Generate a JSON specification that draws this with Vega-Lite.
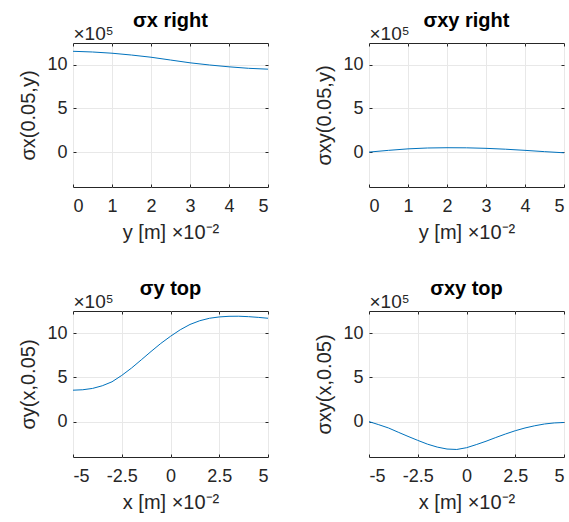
{
  "$schema": "https://vega.github.io/schema/vega-lite/v6.json",
  "padding": {"left": 18, "top": 10, "right": 2, "bottom": 2},
  "background": "white",
  "config": {
    "font": "Liberation Sans",
    "view": {"stroke": "#262626", "strokeWidth": 1},
    "axis": {
      "labelFont": "Liberation Sans", "labelFontSize": 18, "labelColor": "#262626",
      "titleFont": "Liberation Sans", "titleFontSize": 20, "titleColor": "#262626", "titleFontWeight": "normal",
      "gridColor": "#e8e8e8", "gridWidth": 1, "domain": false,
      "ticks": true, "tickSize": -3, "tickColor": "#262626", "tickWidth": 1
    },
    "axisX": {"labelPadding": 13, "titlePadding": 7},
    "axisY": {"labelPadding": 9, "titlePadding": 8},
    "title": {"font": "Liberation Sans", "fontSize": 20, "fontWeight": "bold", "color": "#000000", "anchor": "middle"}
  },
  "datasets": {
    "p1": [
      {"t": 0, "v": 11.55}, {"t": 0.5, "v": 11.47}, {"t": 1, "v": 11.33}, {"t": 1.5, "v": 11.12},
      {"t": 2, "v": 10.87}, {"t": 2.5, "v": 10.55}, {"t": 3, "v": 10.23}, {"t": 3.5, "v": 9.98},
      {"t": 4, "v": 9.77}, {"t": 4.5, "v": 9.6}, {"t": 5, "v": 9.5}
    ],
    "p2": [
      {"t": 0, "v": 0}, {"t": 0.5, "v": 0.2}, {"t": 1, "v": 0.37}, {"t": 1.5, "v": 0.47},
      {"t": 2, "v": 0.5}, {"t": 2.5, "v": 0.49}, {"t": 3, "v": 0.43}, {"t": 3.5, "v": 0.33},
      {"t": 4, "v": 0.2}, {"t": 4.5, "v": 0.05}, {"t": 5, "v": -0.08}
    ],
    "p3": [
      {"t": -5, "v": 3.55}, {"t": -4.5, "v": 3.6}, {"t": -4, "v": 3.75}, {"t": -3.5, "v": 4.05},
      {"t": -3, "v": 4.5}, {"t": -2.5, "v": 5.22}, {"t": -2, "v": 6.05}, {"t": -1.5, "v": 6.98},
      {"t": -1, "v": 7.92}, {"t": -0.5, "v": 8.83}, {"t": 0, "v": 9.64}, {"t": 0.5, "v": 10.38},
      {"t": 1, "v": 10.98}, {"t": 1.5, "v": 11.4}, {"t": 2, "v": 11.68}, {"t": 2.5, "v": 11.83},
      {"t": 3, "v": 11.9}, {"t": 3.5, "v": 11.91}, {"t": 4, "v": 11.86}, {"t": 4.5, "v": 11.78},
      {"t": 5, "v": 11.68}
    ],
    "p4": [
      {"t": -5, "v": 0}, {"t": -4.5, "v": -0.35}, {"t": -4, "v": -0.72}, {"t": -3.5, "v": -1.2},
      {"t": -3, "v": -1.67}, {"t": -2.5, "v": -2.12}, {"t": -2, "v": -2.55}, {"t": -1.5, "v": -2.88},
      {"t": -1, "v": -3.1}, {"t": -0.5, "v": -3.15}, {"t": 0, "v": -2.95}, {"t": 0.5, "v": -2.6},
      {"t": 1, "v": -2.22}, {"t": 1.5, "v": -1.8}, {"t": 2, "v": -1.4}, {"t": 2.5, "v": -1.03},
      {"t": 3, "v": -0.72}, {"t": 3.5, "v": -0.47}, {"t": 4, "v": -0.27}, {"t": 4.5, "v": -0.15},
      {"t": 5, "v": -0.1}
    ]
  },
  "columns": 2,
  "spacing": {"row": 35, "column": 45},
  "concat": [
    {
      "width": 195, "height": 144,
      "title": {"text": "σx right", "offset": -6},
      "data": {"name": "p1"},
      "layer": [
        {
          "mark": {"type": "line", "color": "#0072BD", "strokeWidth": 1, "clip": true},
          "encoding": {
            "x": {"field": "t", "type": "quantitative", "scale": {"domain": [0, 5], "nice": false},
                  "axis": {"values": [0, 1, 2, 3, 4, 5], "labelExpr": "'' + datum.value", "title": "y [m] ×10⁻²"}},
            "y": {"field": "v", "type": "quantitative", "scale": {"domain": [-4, 12.5], "nice": false, "zero": false},
                  "axis": {"values": [0, 5, 10], "title": "σx(0.05,y)"}}
          }
        },
        {
          "mark": {"type": "line", "opacity": 0},
          "encoding": {
            "x": {"field": "t", "type": "quantitative",
                  "axis": {"orient": "top", "values": [0, 1, 2, 3, 4, 5], "labels": false, "grid": false, "title": "×10⁵", "titleAnchor": "start", "titleFontSize": 19, "titlePadding": -1}},
            "y": {"field": "v", "type": "quantitative",
                  "axis": {"orient": "right", "values": [0, 5, 10], "labels": false, "grid": false, "title": null}}
          }
        }
      ],
      "resolve": {"axis": {"x": "independent", "y": "independent"}}
    },
    {
      "width": 195, "height": 144,
      "title": {"text": "σxy right", "offset": -6},
      "data": {"name": "p2"},
      "layer": [
        {
          "mark": {"type": "line", "color": "#0072BD", "strokeWidth": 1, "clip": true},
          "encoding": {
            "x": {"field": "t", "type": "quantitative", "scale": {"domain": [0, 5], "nice": false},
                  "axis": {"values": [0, 1, 2, 3, 4, 5], "labelExpr": "'' + datum.value", "title": "y [m] ×10⁻²"}},
            "y": {"field": "v", "type": "quantitative", "scale": {"domain": [-4, 12.5], "nice": false, "zero": false},
                  "axis": {"values": [0, 5, 10], "title": "σxy(0.05,y)"}}
          }
        },
        {
          "mark": {"type": "line", "opacity": 0},
          "encoding": {
            "x": {"field": "t", "type": "quantitative",
                  "axis": {"orient": "top", "values": [0, 1, 2, 3, 4, 5], "labels": false, "grid": false, "title": "×10⁵", "titleAnchor": "start", "titleFontSize": 19, "titlePadding": -1}},
            "y": {"field": "v", "type": "quantitative",
                  "axis": {"orient": "right", "values": [0, 5, 10], "labels": false, "grid": false, "title": null}}
          }
        }
      ],
      "resolve": {"axis": {"x": "independent", "y": "independent"}}
    },
    {
      "width": 195, "height": 146,
      "title": {"text": "σy top", "offset": -6},
      "data": {"name": "p3"},
      "layer": [
        {
          "mark": {"type": "line", "color": "#0072BD", "strokeWidth": 1, "clip": true},
          "encoding": {
            "x": {"field": "t", "type": "quantitative", "scale": {"domain": [-5, 5], "nice": false},
                  "axis": {"values": [-5, -2.5, 0, 2.5, 5], "labelExpr": "'' + datum.value", "title": "x [m] ×10⁻²"}},
            "y": {"field": "v", "type": "quantitative", "scale": {"domain": [-4, 12.5], "nice": false, "zero": false},
                  "axis": {"values": [0, 5, 10], "title": "σy(x,0.05)"}}
          }
        },
        {
          "mark": {"type": "line", "opacity": 0},
          "encoding": {
            "x": {"field": "t", "type": "quantitative",
                  "axis": {"orient": "top", "values": [-5, -2.5, 0, 2.5, 5], "labels": false, "grid": false, "title": "×10⁵", "titleAnchor": "start", "titleFontSize": 19, "titlePadding": -1}},
            "y": {"field": "v", "type": "quantitative",
                  "axis": {"orient": "right", "values": [0, 5, 10], "labels": false, "grid": false, "title": null}}
          }
        }
      ],
      "resolve": {"axis": {"x": "independent", "y": "independent"}}
    },
    {
      "width": 195, "height": 146,
      "title": {"text": "σxy top", "offset": -6},
      "data": {"name": "p4"},
      "layer": [
        {
          "mark": {"type": "line", "color": "#0072BD", "strokeWidth": 1, "clip": true},
          "encoding": {
            "x": {"field": "t", "type": "quantitative", "scale": {"domain": [-5, 5], "nice": false},
                  "axis": {"values": [-5, -2.5, 0, 2.5, 5], "labelExpr": "'' + datum.value", "title": "x [m] ×10⁻²"}},
            "y": {"field": "v", "type": "quantitative", "scale": {"domain": [-4, 12.5], "nice": false, "zero": false},
                  "axis": {"values": [0, 5, 10], "title": "σxy(x,0.05)"}}
          }
        },
        {
          "mark": {"type": "line", "opacity": 0},
          "encoding": {
            "x": {"field": "t", "type": "quantitative",
                  "axis": {"orient": "top", "values": [-5, -2.5, 0, 2.5, 5], "labels": false, "grid": false, "title": "×10⁵", "titleAnchor": "start", "titleFontSize": 19, "titlePadding": -1}},
            "y": {"field": "v", "type": "quantitative",
                  "axis": {"orient": "right", "values": [0, 5, 10], "labels": false, "grid": false, "title": null}}
          }
        }
      ],
      "resolve": {"axis": {"x": "independent", "y": "independent"}}
    }
  ]
}
